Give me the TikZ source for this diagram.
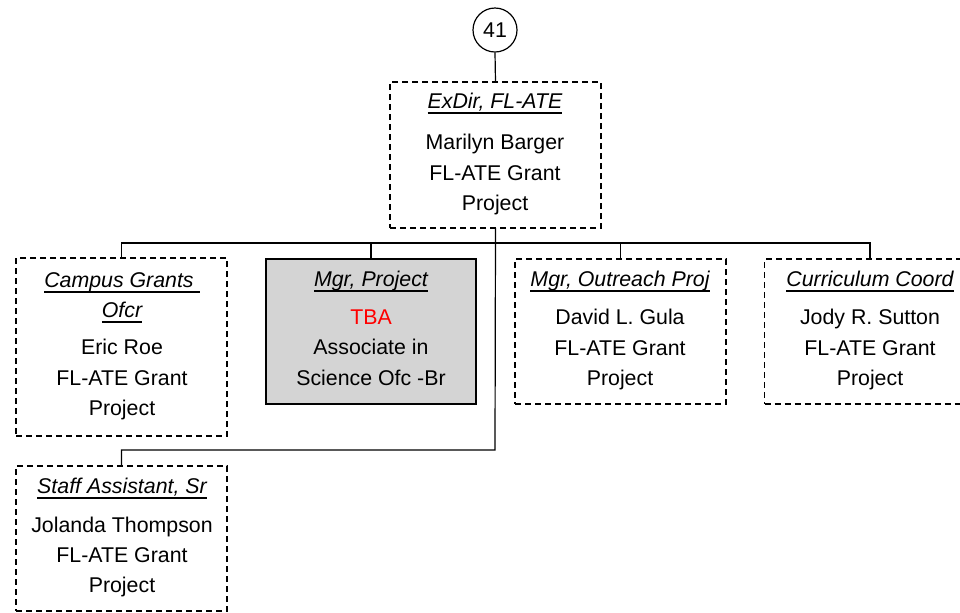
\documentclass[tikz,border=0pt]{standalone}
\usepackage{fontspec}
\setmainfont{Liberation Sans}
\begin{document}
\begin{tikzpicture}[x=0.75pt,y=-0.75pt,line width=0.9pt,
  dbox/.style={draw,rectangle,dash pattern=on 4.5pt off 3pt,inner sep=0pt,outer sep=0pt,minimum width=158.25pt},
  sbox/.style={draw,rectangle,fill=gray!34,inner sep=0pt,outer sep=0pt,minimum width=157.5pt},
  txt/.style={anchor=base,inner sep=0pt,outer sep=0pt,font=\fontsize{16}{19}\selectfont},
  ttl/.style={txt,font=\fontsize{16}{19}\selectfont\itshape},
  uline/.style={draw,line width=1.3pt},
  wire/.style={draw,line width=0.9pt}]
\useasboundingbox (0,0) rectangle (960,612);
% boxes
\node[circle,draw,minimum size=33pt,inner sep=0pt] (c41) at (495,30) {};
\node[txt] (c41t) at (495,37) {41};
\node[dbox,minimum height=109.5pt] (top) at (495.5,155) {};
\node[dbox,minimum height=133.5pt] (campus) at (121.5,347) {};
\node[sbox,minimum height=108.75pt] (mgr) at (371,331.5) {};
\node[dbox,minimum height=108.75pt] (out) at (620.5,331.5) {};
\node[dbox,minimum height=108.75pt] (curr) at (870,331.5) {};
\node[dbox,minimum height=108.75pt] (staff) at (121.5,538.5) {};
% connectors
\coordinate (bus) at (495,243);
\coordinate (sj) at (495,450);
\draw[wire] (c41.south) -- (top.north);
\draw[wire] (campus.north) |- (bus) -| (curr.north);
\draw[wire] (mgr.north) -- (mgr.north |- bus);
\draw[wire] (out.north) -- (out.north |- bus);
\draw[wire] (top.south) -- (sj) -| (staff.north);
% texts
\node[ttl] (t1a) at (495,108) {ExDir, FL-ATE};
\node[txt] (t1b) at (495,149) {Marilyn Barger};
\node[txt] (t1c) at (495,180) {FL-ATE Grant};
\node[txt] (t1d) at (495,210) {Project};
\node[ttl] (t2a) at (122,287) {Campus Grants\kern4.5pt};
\node[ttl] (t2b) at (122,317) {Ofcr};
\node[txt] (t2c) at (122,354) {Eric Roe};
\node[txt] (t2d) at (122,385) {FL-ATE Grant};
\node[txt] (t2e) at (122,415) {Project};
\node[ttl] (t3a) at (371,286) {Mgr, Project};
\node[txt,text=red] (t3b) at (371,324) {TBA};
\node[txt] (t3c) at (371,354) {Associate in};
\node[txt] (t3d) at (371,385) {Science Ofc -Br};
\node[ttl] (t4a) at (620,286) {Mgr, Outreach Proj};
\node[txt] (t4b) at (620,324) {David L. Gula};
\node[txt] (t4c) at (620,355) {FL-ATE Grant};
\node[txt] (t4d) at (620,385) {Project};
\node[ttl] (t5a) at (870,286) {Curriculum Coord};
\node[txt] (t5b) at (870,324) {Jody R. Sutton};
\node[txt] (t5c) at (870,355) {FL-ATE Grant};
\node[txt] (t5d) at (870,385) {Project};
\node[ttl] (t6a) at (122,493) {Staff Assistant, Sr};
\node[txt] (t6b) at (122,532) {Jolanda Thompson};
\node[txt] (t6c) at (122,562) {FL-ATE Grant};
\node[txt] (t6d) at (122,592) {Project};
% underlines of titles
\foreach \t in {t1a,t2a,t2b,t3a,t4a,t5a,t6a}
  \draw[uline] ([yshift=-3.6pt]\t.base west) -- ([yshift=-3.6pt]\t.base east);
\end{tikzpicture}
\end{document}
